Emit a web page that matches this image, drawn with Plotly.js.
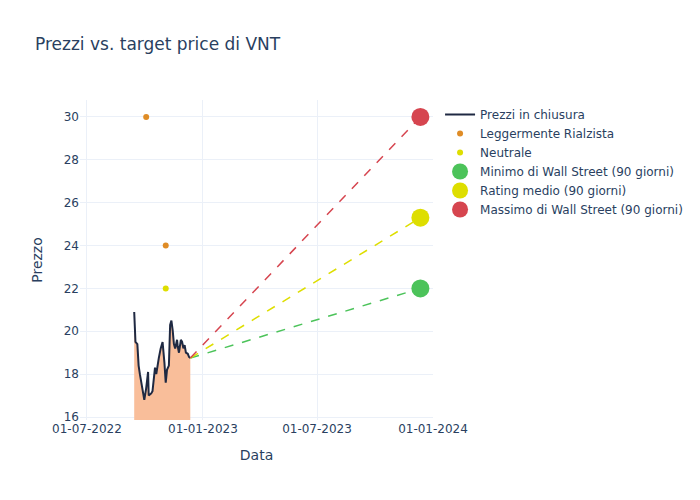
<!DOCTYPE html>
<html>
<head>
<meta charset="utf-8">
<script src="https://cdn.plot.ly/plotly-3.0.1.min.js"></script>
<style>html,body{margin:0;padding:0;background:#fff;}#chart{width:700px;height:500px;}</style>
</head>
<body>
<div id="chart"></div>
<script>
// Closing prices
const priceDates = ['2022-09-14','2022-09-16','2022-09-19','2022-09-21','2022-09-23','2022-09-26','2022-09-28','2022-09-30',
  '2022-10-03','2022-10-06','2022-10-07','2022-10-11','2022-10-13','2022-10-14','2022-10-17','2022-10-19','2022-10-21',
  '2022-10-23','2022-10-26','2022-10-29','2022-11-01','2022-11-03','2022-11-05','2022-11-08','2022-11-10','2022-11-12',
  '2022-11-14','2022-11-16','2022-11-18','2022-11-21','2022-11-22','2022-11-24','2022-11-27','2022-11-29','2022-12-01',
  '2022-12-03','2022-12-05','2022-12-08','2022-12-10','2022-12-12'];
const priceValues = [20.9,19.5,19.4,18.4,18.0,17.5,17.2,16.8,
  17.35,18.1,17.0,17.1,17.2,17.5,18.3,18.0,18.5,
  18.75,19.2,19.5,18.5,17.6,18.2,18.4,20.3,20.5,
  20.05,19.4,19.2,19.6,19.3,19.0,19.6,19.5,19.2,
  19.35,19.0,18.95,18.8,18.75];

// Analyst ratings
const slightlyBullDates = ['2022-10-03','2022-11-03'];
const slightlyBullValues = [30, 24];
const neutralDates = ['2022-11-03'];
const neutralValues = [22];

// 90-day targets
const targetStartDate = '2022-12-12';
const targetEndDate = '2023-12-12';
const lastPrice = 18.75;
const targetLow = 22;
const targetAvg = 25.3;
const targetHigh = 30;

const xTicks = ['2022-07-01','2023-01-01','2023-07-01','2024-01-01'];

const navy = '#1f2942';
const red = '#d6454f';
const yellow = '#dede00';
const green = '#4cc35a';

const traces = [
  {x: priceDates, y: priceValues, type: 'scatter', mode: 'none', showlegend: false,
   fill: 'tozeroy', fillcolor: '#f9be9a', hoverinfo: 'skip'},
  {x: priceDates, y: priceValues, type: 'scatter', mode: 'lines', name: 'Prezzi in chiusura',
   line: {color: navy, width: 2}},
  {x: slightlyBullDates, y: slightlyBullValues, type: 'scatter', mode: 'markers', name: 'Leggermente Rialzista',
   marker: {color: '#df8c26', size: 6}},
  {x: neutralDates, y: neutralValues, type: 'scatter', mode: 'markers', name: 'Neutrale',
   marker: {color: yellow, size: 6}},
  {x: [targetStartDate, targetEndDate], y: [lastPrice, targetLow], type: 'scatter', mode: 'lines', showlegend: false,
   line: {color: green, width: 1.5, dash: 'dash'}, hoverinfo: 'skip'},
  {x: [targetStartDate, targetEndDate], y: [lastPrice, targetAvg], type: 'scatter', mode: 'lines', showlegend: false,
   line: {color: yellow, width: 1.5, dash: 'dash'}, hoverinfo: 'skip'},
  {x: [targetStartDate, targetEndDate], y: [lastPrice, targetHigh], type: 'scatter', mode: 'lines', showlegend: false,
   line: {color: red, width: 1.5, dash: 'dash'}, hoverinfo: 'skip'},
  {x: [targetEndDate], y: [targetLow], type: 'scatter', mode: 'markers', name: 'Minimo di Wall Street (90 giorni)',
   marker: {color: green, size: 18}},
  {x: [targetEndDate], y: [targetAvg], type: 'scatter', mode: 'markers', name: 'Rating medio (90 giorni)',
   marker: {color: yellow, size: 18}},
  {x: [targetEndDate], y: [targetHigh], type: 'scatter', mode: 'markers', name: 'Massimo di Wall Street (90 giorni)',
   marker: {color: red, size: 18}}
];

const layout = {
  width: 700, height: 500,
  paper_bgcolor: '#ffffff', plot_bgcolor: '#ffffff',
  font: {family: '"DejaVu Sans", sans-serif', size: 12, color: '#2a3f5f'},
  title: {text: 'Prezzi vs. target price di VNT', x: 0.05, xanchor: 'left', font: {size: 17, color: '#2a3f5f'}},
  margin: {l: 80, r: 267, t: 100, b: 80},
  xaxis: {title: {text: 'Data', standoff: 15}, type: 'date', range: ['2022-06-20', '2024-01-01'],
          tickvals: xTicks, tickformat: '%d-%m-%Y', gridcolor: '#EBF0F8', zeroline: false, showline: false, ticks: ''},
  yaxis: {title: {text: 'Prezzo'}, range: [15.86, 30.79], dtick: 2, gridcolor: '#EBF0F8', zeroline: false, ticks: ''},
  legend: {x: 1.02, y: 1, xanchor: 'left', yanchor: 'top', bgcolor: 'rgba(0,0,0,0)'},
  showlegend: true
};

Plotly.newPlot('chart', traces, layout, {displayModeBar: false, staticPlot: true});
</script>
</body>
</html>
